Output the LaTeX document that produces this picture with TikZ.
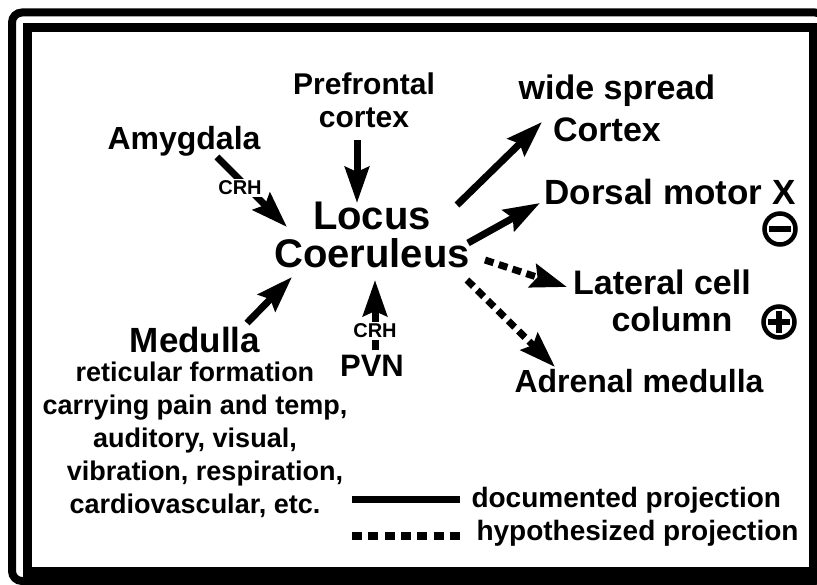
\documentclass[tikz,border=0pt]{standalone}
\usepackage{fontspec}
\setmainfont{Liberation Sans}
\usetikzlibrary{arrows.meta, positioning}
\newcommand{\fs}[2]{\fontsize{#1}{#2}\selectfont\bfseries}
\tikzset{
  every picture/.style={font=\bfseries, line width=7pt},
  proj/.style={-{Stealth[length=36pt, width=24pt, inset=5pt]}, line width=7pt},
  hypo/.style={proj, dash pattern=on 9pt off 5.5pt},
  lab/.style={inner sep=0pt, align=center, anchor=base},
  tag/.style={font=\fs{20}{20}, fill=white, inner sep=1.5pt},
  sign/.style={circle, draw, line width=4.5pt, minimum size=31pt, inner sep=0pt},
}

\begin{document}
\begin{tikzpicture}[x=1pt, y=-1pt]
\useasboundingbox (0,0) rectangle (817,585);
\clip (0,0) rectangle (817,585);
% frame
\draw[line width=8pt, rounded corners=10pt] (12,12.5) rectangle (825,581);
\draw[line width=9.5pt] (27.5,27.5) rectangle (813.5,572);
% regions (base = last line)
\node[lab, font=\fs{40}{38}] (lc) at (372,268) {Locus\\Coeruleus};
\node[lab, font=\fs{32}{33}] (amy) at (184,150) {Amygdala};
\node[lab, font=\fs{30}{33}] (pfc) at (364,128) {Prefrontal\\cortex};
\node[lab, font=\fs{35}{35}] (med) at (195,353) {Medulla};
\node[lab, font=\fs{27}{33}] (medtxt) at (195,513) {reticular formation\\carrying pain and temp,\\auditory, visual,\\\hspace*{20pt}vibration, respiration,\\cardiovascular, etc.};
\node[lab, font=\fs{31}{31}] (pvn) at (372,377) {PVN};
\node[lab, font=\fs{34}{42}] (ctx) at (617,142) {wide spread\\Cortex\hspace*{20pt}};
\node[lab, font=\fs{35}{35}] (dmx) at (670,205) {Dorsal motor X};
\node[lab, font=\fs{34}{37}] (lcc) at (662,332) {Lateral cell\\\hspace*{20pt}column};
\node[lab, font=\fs{32}{32}] (adr) at (639,392) {Adrenal medulla};
% inhibition / excitation
\node[sign] (minus) at (780,229) {};
\node[sign] (plus) at (779,322) {};
\draw[line width=5.5pt] ([xshift=-11pt]minus.center) -- ([xshift=11pt]minus.center);
\draw[line width=5.5pt] ([xshift=-11pt]plus.center) -- ([xshift=11pt]plus.center)
  ([yshift=-11pt]plus.center) -- ([yshift=11pt]plus.center);
% inputs
\draw[proj] ([shift={(33,7)}]amy.base) -- ([shift={(-85,-41)}]lc.base);
\draw[proj] ([shift={(-7,12)}]pfc.base) -- ([shift={(-15,-65)}]lc.base);
\draw[proj] ([shift={(52,-30)}]med.base) -- ([shift={(-80,9)}]lc.base);
\draw[proj] ([shift={(3,-27)}]pvn.base) -- ([shift={(3,12)}]lc.base);
\node[tag] (crhamy) at (240,188) {CRH};
\node[tag] (crhpvn) at (375,331) {CRH};
% outputs
\draw[proj] ([shift={(85,-63)}]lc.base) -- ([shift={(-75,-20)}]ctx.base);
\draw[proj] ([shift={(96,-25)}]lc.base) -- ([shift={(-130,-2)}]dmx.base);
\draw[hypo] ([shift={(113,-8)}]lc.base) -- ([shift={(-95,-45)}]lcc.base);
\draw[hypo] ([shift={(95,12)}]lc.base) -- ([shift={(-84,-25)}]adr.base);
% legend
\node[lab, anchor=base west, font=\fs{28}{28}] (doc) at (468,507) {documented projection};
\node[lab, anchor=base west, font=\fs{28}{28}] (hyp) at (473,540) {hypothesized projection};
\coordinate (docA) at (352,499);
\coordinate (hypA) at (352,536);
\draw[line width=7pt] (docA) -- ([xshift=-8pt]doc.west |- docA);
\draw[line width=7.5pt, dash pattern=on 10pt off 6.3pt] (hypA) -- ([xshift=-13pt]hyp.west |- hypA);
\end{tikzpicture}
\end{document}
